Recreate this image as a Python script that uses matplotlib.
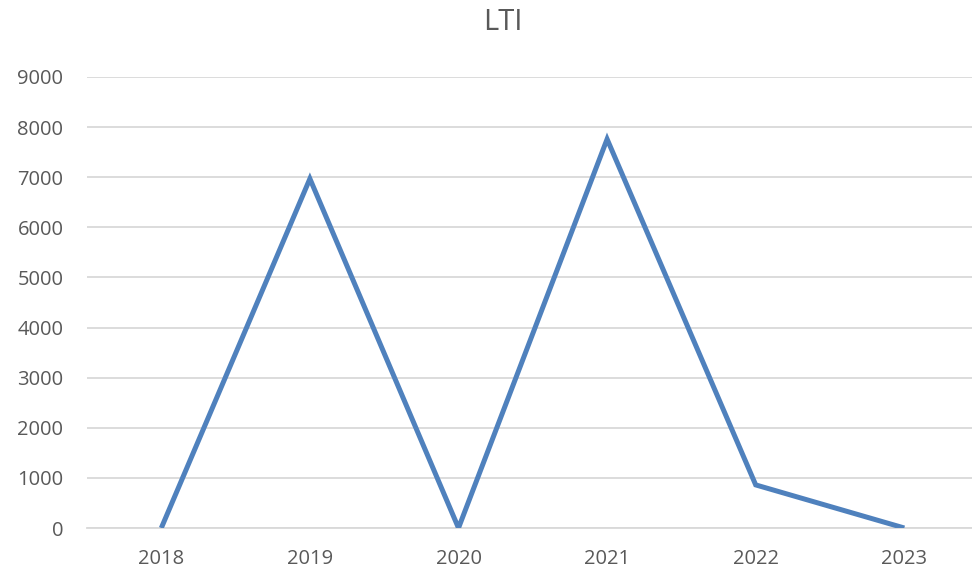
import matplotlib
matplotlib.use("Agg")
import matplotlib.pyplot as plt

years = ["2018", "2019", "2020", "2021", "2022", "2023"]
lti = [0, 6970, 0, 7760, 860, 0]
y_ticks = [0, 1000, 2000, 3000, 4000, 5000, 6000, 7000, 8000, 9000]

plt.rcParams['font.family'] = ['Open Sans', 'DejaVu Sans']
text_color = "#595959"
grid_color = "#D9D9D9"

fig = plt.figure(figsize=(9.72, 5.69), dpi=100)
ax = fig.add_axes([87/972, 1-528/569, 891.6/972, 451/569])

x = list(range(len(years)))
ax.plot(x, lti, color="#4F81BD", linewidth=3.6, solid_capstyle="butt", solid_joinstyle="miter", zorder=3)

ax.set_xlim(-0.5, len(years) - 0.5)
ax.set_ylim(0, 9000)
ax.set_yticks(y_ticks)
ax.set_yticklabels([str(v) for v in y_ticks])
ax.set_xticks(x)
ax.set_xticklabels(years)

ax.grid(axis="y", color=grid_color, linewidth=1.3)
ax.set_axisbelow(True)
for s in ["top", "right", "left"]:
    ax.spines[s].set_visible(False)
ax.spines["bottom"].set_color(grid_color)
ax.spines["bottom"].set_linewidth(1.3)

ax.tick_params(axis="both", length=0, labelsize=14.5, colors=text_color)
ax.tick_params(axis="y", pad=17)
ax.tick_params(axis="x", pad=15)

fig.text(503/972, 1-22/569, "LTI", ha="center", va="center", fontsize=21, color=text_color)

fig.savefig("out.png", dpi=100)
